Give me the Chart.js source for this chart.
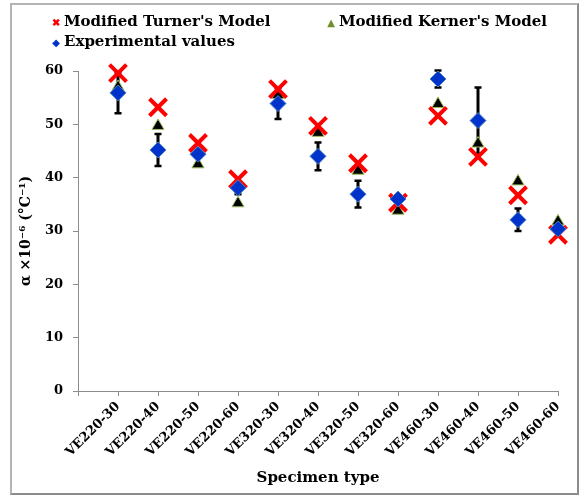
<!DOCTYPE html>
<html lang="en">
<head>
    <meta charset="UTF-8">
    <title>Thermal expansion coefficient by specimen type</title>
    <style>
        html, body {
            margin: 0;
            padding: 0;
            background: #ffffff;
        }

        body {
            width: 583px;
            height: 496px;
            position: relative;
            overflow: hidden;
            font-family: "DejaVu Serif", serif;
        }

        .frame {
            position: absolute;
            left: 10px;
            top: 3px;
            width: 565px;
            height: 488px;
            border: 2px solid #b4b4b4;
            border-right-color: #8c8c8c;
            border-bottom-color: #8c8c8c;
        }

        #chart {
            position: absolute;
            left: 0;
            top: 0;
        }

        .legend {
            position: absolute;
            left: 0;
            top: 0;
            font-weight: bold;
            font-size: 15px;
            color: #000;
        }

        .legend .item {
            position: absolute;
            white-space: nowrap;
            line-height: 18px;
        }

        .legend .icon {
            display: inline-block;
            width: 12px;
            text-align: center;
            margin-right: 2px;
        }
    </style>
</head>
<body>
    <div class="frame"></div>
    <canvas id="chart" width="583" height="496"></canvas>
    <div class="legend" id="legend"></div>

    <script src="https://cdn.jsdelivr.net/npm/chart.js"></script>
    <script>
        const categories = ['VE220-30', 'VE220-40', 'VE220-50', 'VE220-60',
                            'VE320-30', 'VE320-40', 'VE320-50', 'VE320-60',
                            'VE460-30', 'VE460-40', 'VE460-50', 'VE460-60'];
        const turnerModel = [59.6, 53.2, 46.5, 39.7, 56.6, 49.7, 42.7, 35.3, 51.6, 43.9, 36.7, 29.3];
        const kernerModel = [57.0, 49.7, 42.5, 35.2, 55.5, 48.4, 41.3, 33.8, 53.8, 46.4, 39.3, 31.8];
        const experimental = [55.9, 45.2, 44.4, 38.1, 53.9, 44.0, 36.9, 36.0, 58.5, 50.7, 32.1, 30.4];
        const experimentalError = [3.8, 3.0, 0.6, 1.2, 2.9, 2.6, 2.5, 0.4, 1.6, 6.2, 2.1, 0.5];
        const yTicks = [0, 10, 20, 30, 40, 50, 60];

        const fontFamily = '"DejaVu Serif", serif';

        function toPoints(values) {
            return values.map((v, i) => ({ x: i + 1, y: v }));
        }

        // error bars for the experimental series, drawn under all markers
        const errorBars = {
            id: 'errorBars',
            beforeDatasetsDraw(chart) {
                const ctx = chart.ctx;
                const xScale = chart.scales.x;
                const yScale = chart.scales.y;
                ctx.save();
                ctx.strokeStyle = '#000000';
                experimental.forEach((v, i) => {
                    const x = xScale.getPixelForValue(i + 1);
                    const top = yScale.getPixelForValue(v + experimentalError[i]);
                    const bottom = yScale.getPixelForValue(v - experimentalError[i]);
                    ctx.lineWidth = 3;
                    ctx.beginPath();
                    ctx.moveTo(x, top);
                    ctx.lineTo(x, bottom);
                    ctx.stroke();
                    ctx.lineWidth = 2.5;
                    ctx.beginPath();
                    ctx.moveTo(x - 3.5, top);
                    ctx.lineTo(x + 3.5, top);
                    ctx.moveTo(x - 3.5, bottom);
                    ctx.lineTo(x + 3.5, bottom);
                    ctx.stroke();
                });
                ctx.restore();
            }
        };

        const datasets = [
            {
                label: "Modified Turner's Model",
                data: toPoints(turnerModel),
                pointStyle: 'crossRot',
                pointRadius: 12,
                pointBorderWidth: 4,
                borderColor: '#ff0000',
                backgroundColor: '#ff0000',
                showLine: false,
                clip: false,
                order: 2
            },
            {
                label: "Modified Kerner's Model",
                data: toPoints(kernerModel),
                pointStyle: 'triangle',
                pointRadius: 7,
                pointBorderWidth: 1,
                borderColor: '#9bbb59',
                backgroundColor: '#000000',
                showLine: false,
                clip: false,
                order: 3
            },
            {
                label: 'Experimental values',
                data: toPoints(experimental),
                pointStyle: 'rectRot',
                pointRadius: 8,
                pointBorderWidth: 1,
                borderColor: '#4f81bd',
                backgroundColor: '#0033cc',
                showLine: false,
                clip: false,
                order: 1
            }
        ];

        // html legend laid out like the original two-column key
        const legendIcons = [
            { symbol: '\u2716', color: '#ff0000', left: 50, top: 12 },
            { symbol: '\u25B2', color: '#6e8f2a', left: 325, top: 12 },
            { symbol: '\u25C6', color: '#0033cc', left: 50, top: 32 }
        ];
        const legend = document.getElementById('legend');
        datasets.forEach((ds, i) => {
            const icon = legendIcons[i];
            const item = document.createElement('div');
            item.className = 'item';
            item.style.left = icon.left + 'px';
            item.style.top = icon.top + 'px';
            item.innerHTML = '<span class="icon" style="color:' + icon.color + ';font-size:10px">' +
                icon.symbol + '</span>' + ds.label;
            legend.appendChild(item);
        });

        const ctx = document.getElementById('chart').getContext('2d');
        new Chart(ctx, {
            type: 'scatter',
            data: { datasets: datasets },
            plugins: [errorBars],
            options: {
                responsive: false,
                animation: false,
                layout: {
                    padding: { left: 12, right: 25, top: 71, bottom: 7 }
                },
                plugins: {
                    legend: { display: false },
                    tooltip: { enabled: false }
                },
                scales: {
                    x: {
                        type: 'linear',
                        min: 0,
                        max: 12,
                        afterBuildTicks(scale) {
                            scale.ticks = categories.map((c, i) => ({ value: i })).concat([{ value: 12 }]);
                        },
                        afterFit(scale) {
                            scale.height = 98;
                        },
                        ticks: {
                            autoSkip: false,
                            minRotation: 45,
                            maxRotation: 45,
                            padding: 3,
                            color: '#000000',
                            font: { family: fontFamily, weight: 'bold', size: 13 },
                            callback: (v) => (v >= 1 && v <= 12 ? categories[v - 1] : '')
                        },
                        grid: {
                            drawOnChartArea: false,
                            drawTicks: true,
                            tickLength: 5,
                            color: '#8c8c8c'
                        },
                        border: { display: true, color: '#8c8c8c', width: 1 },
                        title: {
                            display: true,
                            text: 'Specimen type',
                            color: '#000000',
                            padding: { top: 0, bottom: 2 },
                            font: { family: fontFamily, weight: 'bold', size: 15 }
                        }
                    },
                    y: {
                        min: 0,
                        max: 60,
                        afterBuildTicks(scale) {
                            scale.ticks = yTicks.map((v) => ({ value: v }));
                        },
                        afterFit(scale) {
                            scale.width = 66;
                        },
                        ticks: {
                            padding: 10,
                            color: '#000000',
                            font: { family: fontFamily, weight: 'bold', size: 13 }
                        },
                        grid: {
                            drawOnChartArea: false,
                            drawTicks: true,
                            tickLength: 5,
                            color: '#8c8c8c'
                        },
                        border: { display: true, color: '#8c8c8c', width: 1 },
                        title: {
                            display: true,
                            text: 'α ×10\u207B\u2076 (°C\u207B\u00B9)',
                            color: '#000000',
                            padding: { top: 6, bottom: 0 },
                            font: { family: fontFamily, weight: 'bold', size: 14 }
                        }
                    }
                }
            }
        });
    </script>
</body>
</html>
